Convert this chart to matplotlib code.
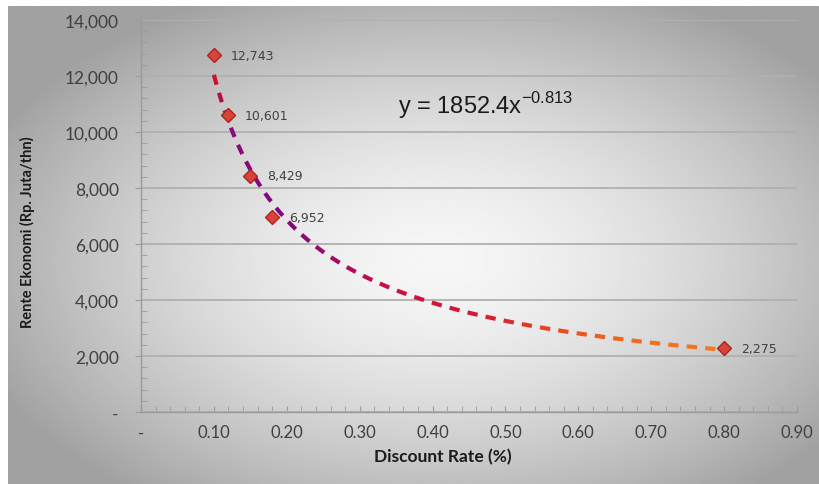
import numpy as np
import matplotlib
matplotlib.use("Agg")
import matplotlib.pyplot as plt
from matplotlib.collections import LineCollection
from matplotlib.colors import LinearSegmentedColormap
from matplotlib.ticker import MultipleLocator, FuncFormatter

# data
rates = [0.10, 0.12, 0.15, 0.18, 0.80]
rente = [12743, 10601, 8429, 6952, 2275]
fit_a = 1852.4
fit_b = -0.813

W, H = 819, 485
fig = plt.figure(figsize=(W / 100, H / 100), dpi=100)
fig.patch.set_facecolor("white")

# radial grey background (chart area sits 8px from left, 7px from top)
bg = fig.add_axes([8 / W, 0, (W - 8) / W, (H - 7) / H], zorder=0)
gx, gy = np.meshgrid(np.linspace(0, W - 8, 400), np.linspace(0, H - 7, 240))
r = np.sqrt(((gx - 430) / 430) ** 2 + ((gy - 255) / 260) ** 2)
val = np.clip(0.965 - 0.27 * r ** 1.6, 0.63, 1)
bg.imshow(val, cmap="gray", vmin=0, vmax=1, aspect="auto", interpolation="bilinear")
bg.axis("off")

left, right, top, bottom = 141, 797, 21, 413
ax = fig.add_axes([left / W, 1 - bottom / H, (right - left) / W, (bottom - top) / H], zorder=1)
ax.set_facecolor("none")
ax.set_xlim(0, 0.9)
ax.set_ylim(0, 14000)

for s in ["top", "right"]:
    ax.spines[s].set_visible(False)
for s in ["left", "bottom"]:
    ax.spines[s].set_color("#9a9a9a")
    ax.spines[s].set_linewidth(1)

ax.yaxis.set_major_locator(MultipleLocator(2000))
ax.yaxis.set_minor_locator(MultipleLocator(400))
ax.xaxis.set_major_locator(MultipleLocator(0.1))
ax.xaxis.set_minor_locator(MultipleLocator(0.02))
ax.grid(axis="y", color="#b0b0b0", linewidth=1.3)
ax.set_axisbelow(True)

ax.yaxis.set_major_formatter(FuncFormatter(lambda v, p: "-" if v == 0 else f"{v:,.0f}"))
ax.xaxis.set_major_formatter(FuncFormatter(lambda v, p: "-" if abs(v) < 1e-9 else f"{v:.2f}"))
ax.tick_params(axis="y", which="major", direction="out", length=4, color="#9a9a9a", pad=12,
               labelsize=12.5, labelcolor="#404040")
ax.tick_params(axis="y", which="minor", direction="in", length=4, color="#9a9a9a")
ax.tick_params(axis="x", which="both", direction="in", length=4, color="#9a9a9a", pad=9,
               labelsize=12, labelcolor="#404040")
for lab in ax.get_xticklabels() + ax.get_yticklabels():
    lab.set_fontfamily("Lato")

# dashed power trend line with a colour gradient along x
xs = np.linspace(min(rates), max(rates), 3000)
ys = fit_a * xs ** fit_b
pts = ax.transData.transform(np.column_stack([xs, ys]))
seglen = np.hypot(np.diff(pts[:, 0]), np.diff(pts[:, 1]))
arc = np.concatenate([[0], np.cumsum(seglen)])
dash, gap = 10.5, 8.0
on = (arc % (dash + gap)) < dash
segs, mids = [], []
i = 0
n = len(xs)
while i < n:
    if on[i]:
        j = i
        while j < n and on[j]:
            j += 1
        if j - i > 1:
            segs.append(np.column_stack([xs[i:j], ys[i:j]]))
            mids.append(xs[(i + j) // 2])
        i = j
    else:
        i += 1
stops = [(0.10, "#d0102a"), (0.12, "#8a0a7a"), (0.20, "#80087e"), (0.26, "#a00a68"),
         (0.33, "#c81040"), (0.47, "#d81a30"), (0.57, "#e84a20"), (0.67, "#f06a1c"),
         (0.80, "#f57a22")]
x0, x1 = stops[0][0], stops[-1][0]
cmap = LinearSegmentedColormap.from_list("trend", [((x - x0) / (x1 - x0), c) for x, c in stops])
cols = [cmap((m - x0) / (x1 - x0)) for m in mids]
ax.add_collection(LineCollection(segs, colors=cols, linewidths=3, capstyle="butt", zorder=3))

# points and labels
ax.plot(rates, rente, linestyle="none", marker="D", markersize=7.5, markerfacecolor="#d9443a",
        markeredgecolor="#a8261f", markeredgewidth=1, zorder=4)
for x, y in zip(rates, rente):
    ax.annotate(f"{y:,}", (x, y), xytext=(12, 0), textcoords="offset points", va="center",
                ha="left", fontsize=9, color="#404040", zorder=5)

fig.text(398 / W, 1 - 106 / H, r"y = 1852.4x$^{\mathregular{-0.813}}$", fontsize=17,
         family="Liberation Sans", color="#1a1a1a", va="center", ha="left")

fig.text(443 / W, 1 - 457 / H, "Discount Rate (%)", fontsize=12.5, fontweight="bold",
         family="Lato", color="#1a1a1a", ha="center", va="center")
fig.text(27 / W, 1 - 232 / H, "Rente Ekonomi (Rp. Juta/thn)", fontsize=10.5, fontweight="bold",
         family="Lato", color="#1a1a1a", ha="center", va="center", rotation=90)

fig.savefig("out.png", dpi=100)
